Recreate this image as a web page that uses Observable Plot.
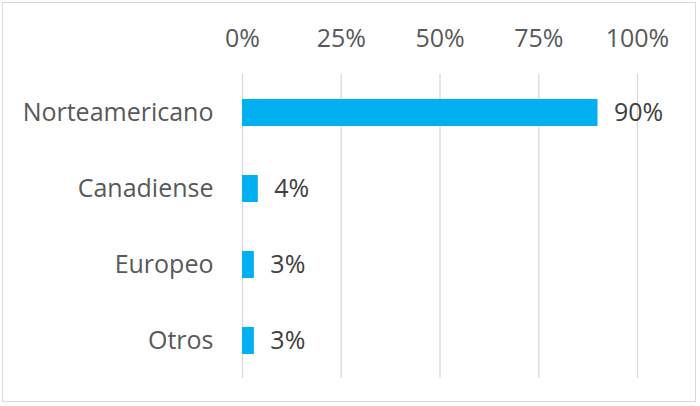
<!DOCTYPE html>
<html>
<head>
<meta charset="utf-8">
<script src="https://cdn.jsdelivr.net/npm/d3@7"></script>
<script src="https://cdn.jsdelivr.net/npm/@observablehq/plot@0.6"></script>
<style>
  html, body { margin: 0; padding: 0; background: #fff; }
  #wrap { position: relative; width: 700px; height: 406px; }
  #frame { position: absolute; left: 2px; top: 2px; width: 694px; height: 400px; border: 1px solid #d9d9d9; box-sizing: border-box; pointer-events: none; }
  #chart { position: absolute; left: 0; top: 0; }
</style>
</head>
<body>
<div id="wrap"><div id="chart"></div><div id="frame"></div></div>
<script>
const categories = ["Norteamericano", "Canadiense", "Europeo", "Otros"];
const values = [0.90, 0.04, 0.03, 0.03];
const tickValues = [0, 0.25, 0.5, 0.75, 1];
const data = categories.map((c, i) => ({category: c, value: values[i]}));

const font = "'Open Sans', sans-serif";
const chart = Plot.plot({
  width: 700,
  height: 406,
  marginLeft: 242,
  marginRight: 63,
  marginTop: 74,
  marginBottom: 28,
  style: {fontFamily: font, fontSize: "25px", color: "#595959", background: "transparent", overflow: "visible"},
  x: {domain: [0, 1], axis: null},
  y: {domain: categories, paddingInner: 0.645, paddingOuter: 0.32, axis: null},
  marks: [
    Plot.ruleX(tickValues, {stroke: "#d9d9d9", strokeWidth: 1.3, strokeOpacity: 1}),
    Plot.axisX({anchor: "top", ticks: tickValues, tickFormat: d3.format(".0%"), tickSize: 0, tickPadding: 28, fontSize: 25, fill: "#595959", label: null}),
    Plot.axisY({anchor: "left", tickSize: 0, tickPadding: 29, fontSize: 25, fill: "#595959", label: null}),
    Plot.barX(data, {y: "category", x: "value", fill: "#00B0F0"}),
    Plot.text(data, {y: "category", x: "value", text: d => d3.format(".0%")(d.value), textAnchor: "start", dx: 16, fontSize: 25, fill: "#404040"})
  ]
});
document.getElementById("chart").appendChild(chart);
</script>
</body>
</html>
